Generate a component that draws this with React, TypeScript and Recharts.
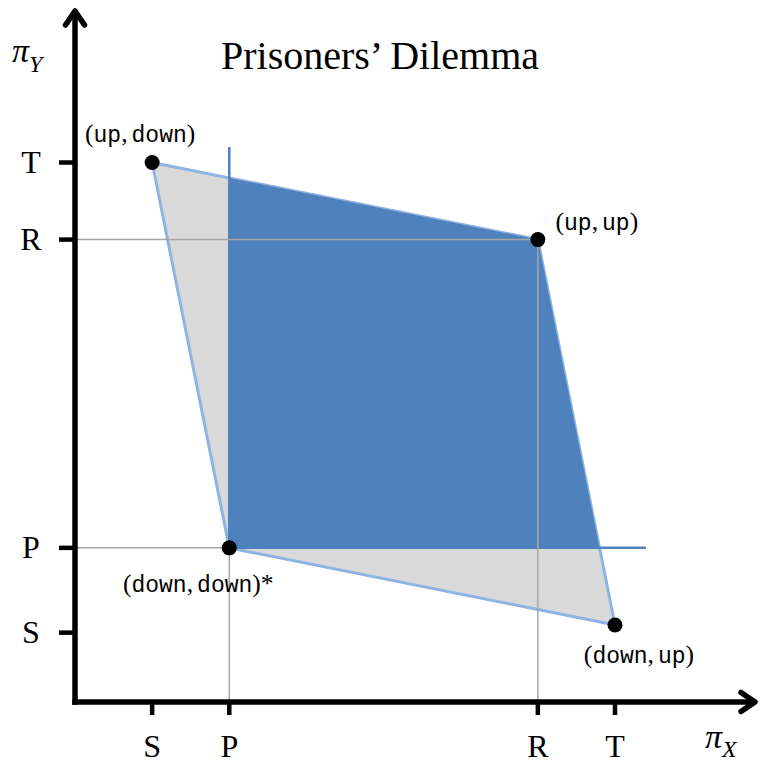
import React from 'react';
import { ComposedChart, Area, Scatter, XAxis, YAxis, ReferenceLine } from 'recharts';

// ---- data ----
const xTickValues = [0, 1, 5, 6];
const xTickLabels = ['S', 'P', 'R', 'T'];
const yTickValues = [-0.1, 1, 5, 6];
const yTickLabels = ['S', 'P', 'R', 'T'];

// feasible payoff region (gray): lower / upper boundary at each x
const feasibleX = [0, 1, 5, 6];
const feasibleLow = [6, 1, 0.2, 0];
const feasibleHigh = [6, 5.8, 5, 0];

// region that improves on (down,down) for both players (blue)
const betterX = [1, 5, 5.8];
const betterLow = [1, 1, 1];
const betterHigh = [5.8, 5, 1];

// outcomes
const outcomeFirst = ['up', 'up', 'down', 'down'];
const outcomeSecond = ['down', 'up', 'up', 'down'];
const outcomeStar = [false, false, false, true];
const outcomeX = [0, 5, 6, 1];
const outcomeY = [6, 5, 0, 1];

// best-response lines through (P,P) and guide lines
const bestResponseSegments = [
  [[1, 1], [1, 6.2]],
  [[1, 1], [6.4, 1]],
];
const guideSegments = [
  [[-1, 5], [5, 5]],
  [[-1, 1], [1, 1]],
  [[1, -1], [1, 1]],
  [[5, -1], [5, 5]],
];

// ---- styling ----
const SERIF = 'Liberation Serif, serif';
const MONO = 'Liberation Mono, monospace';
const LABEL_OFFSETS = [
  { dx: -12, dy: -21 },
  { dx: 59, dy: -10 },
  { dx: 24, dy: 38 },
  { dx: -31, dy: 44 },
];

const feasibleData = feasibleX.map((x, i) => ({ x, range: [feasibleLow[i], feasibleHigh[i]] }));
const betterData = betterX.map((x, i) => ({ x, range: [betterLow[i], betterHigh[i]] }));
const outcomeData = outcomeX.map((x, i) => ({
  x,
  y: outcomeY[i],
  idx: i,
  first: outcomeFirst[i],
  second: outcomeSecond[i],
  star: outcomeStar[i],
}));

const XTick = (props: any) => {
  const { x, y, payload } = props;
  const label = xTickLabels[xTickValues.indexOf(payload.value)];
  return (
    <text x={x} y={y} dy="0.33em" textAnchor="middle" style={{ fontFamily: SERIF, fontSize: 32 }} fill="#000">
      {label}
    </text>
  );
};

const YTick = (props: any) => {
  const { x, y, payload } = props;
  const label = yTickLabels[yTickValues.indexOf(payload.value)];
  return (
    <text x={x} y={y} dy="0.33em" textAnchor="middle" style={{ fontFamily: SERIF, fontSize: 32 }} fill="#000">
      {label}
    </text>
  );
};

const OutcomeShape = (props: any) => {
  const { cx, cy, payload } = props;
  const off = LABEL_OFFSETS[payload.idx];
  const mono = { fontFamily: MONO, fontSize: 23 };
  return (
    <g>
      <circle cx={cx} cy={cy} r={7.5} fill="#000" />
      <text x={cx + off.dx} y={cy + off.dy} textAnchor="middle" style={{ fontFamily: SERIF, fontSize: 25.6 }} fill="#000">
        {'('}<tspan style={mono}>{payload.first}</tspan>{','}<tspan dx={4} style={mono}>{payload.second}</tspan>{')'}{payload.star ? '*' : ''}
      </text>
    </g>
  );
};

export default function App() {
  return (
    <div style={{ position: 'absolute', left: 0, top: 0, width: 760, height: 764, background: '#fff' }}>
      <ComposedChart width={760} height={764} margin={{ top: 14, right: 8, left: 0, bottom: 0 }}>
        <defs>
          <marker
            id="arrowHead"
            markerUnits="userSpaceOnUse"
            markerWidth={40}
            markerHeight={40}
            viewBox="-20 -20 40 40"
            refX={0}
            refY={0}
            orient="auto-start-reverse"
            overflow="visible"
          >
            <path d="M -11 -9.5 L 3 0 L -11 9.5" fill="none" stroke="#000" strokeWidth={5.5} strokeLinecap="round" strokeLinejoin="round" />
          </marker>
        </defs>
        <XAxis
          type="number"
          dataKey="x"
          domain={[-1, 7.776]}
          allowDataOverflow
          ticks={xTickValues}
          interval={0}
          height={62}
          tickSize={13}
          tickMargin={31}
          tick={<XTick />}
          tickLine={{ stroke: '#000', strokeWidth: 4.5 }}
          axisLine={{ stroke: '#000', strokeWidth: 5.5, strokeLinecap: 'square', markerEnd: 'url(#arrowHead)' }}
        />
        <YAxis
          type="number"
          domain={[-1, 7.927]}
          allowDataOverflow
          ticks={yTickValues}
          interval={0}
          width={75}
          tickSize={16}
          tickMargin={28}
          tick={<YTick />}
          tickLine={{ stroke: '#000', strokeWidth: 4.5 }}
          axisLine={{ stroke: '#000', strokeWidth: 5.5, strokeLinecap: 'square', markerStart: 'url(#arrowHead)' }}
        />
        <Area
          data={feasibleData}
          dataKey="range"
          type="linear"
          fill="#d9d9d9"
          fillOpacity={1}
          stroke="#8db4e2"
          strokeWidth={3}
          dot={false}
          activeDot={false}
          isAnimationActive={false}
        />
        <Area
          data={betterData}
          dataKey="range"
          type="linear"
          fill="#4f81bd"
          fillOpacity={1}
          stroke="none"
          dot={false}
          activeDot={false}
          isAnimationActive={false}
        />
        {bestResponseSegments.map((s, i) => (
          <ReferenceLine
            key={'br' + i}
            segment={[{ x: s[0][0], y: s[0][1] }, { x: s[1][0], y: s[1][1] }]}
            stroke="#4f81bd"
            strokeWidth={2.5}
            ifOverflow="visible"
          />
        ))}
        {guideSegments.map((s, i) => (
          <ReferenceLine
            key={'g' + i}
            segment={[{ x: s[0][0], y: s[0][1] }, { x: s[1][0], y: s[1][1] }]}
            stroke="#a6a6a6"
            strokeWidth={1.5}
            ifOverflow="visible"
          />
        ))}
        <Scatter data={outcomeData} dataKey="y" shape={<OutcomeShape />} isAnimationActive={false} />
        <text x={380} y={69} textAnchor="middle" style={{ fontFamily: SERIF, fontSize: 40 }} fill="#000">
          Prisoners’ Dilemma
        </text>
        <text x={12} y={62} style={{ fontFamily: SERIF, fontStyle: 'italic', fontSize: 34 }} fill="#000">
          π<tspan style={{ fontSize: 24 }} dy={10}>Y</tspan>
        </text>
        <text x={705} y={748} style={{ fontFamily: SERIF, fontStyle: 'italic', fontSize: 34 }} fill="#000">
          π<tspan style={{ fontSize: 24 }} dy={9}>X</tspan>
        </text>
      </ComposedChart>
    </div>
  );
}
